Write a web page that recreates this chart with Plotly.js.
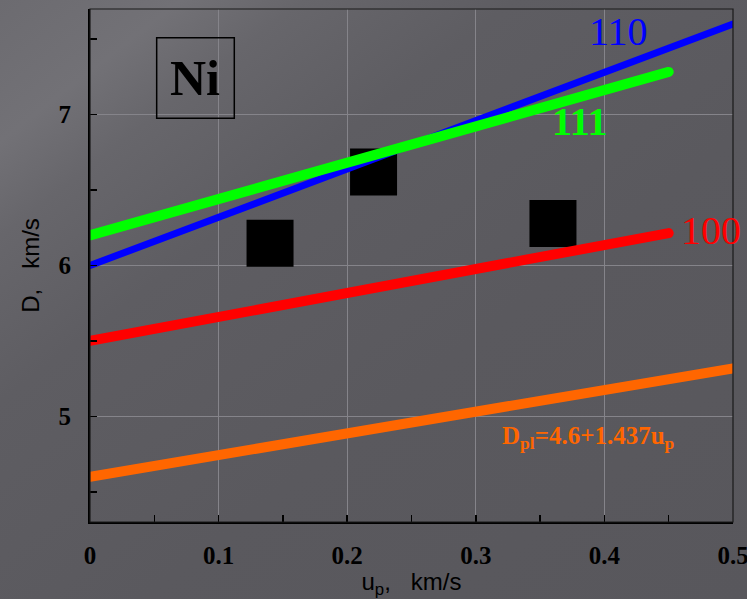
<!DOCTYPE html>
<html>
<head>
<meta charset="utf-8">
<script src="https://cdn.plot.ly/plotly-3.0.1.min.js"></script>
<style>
html,body{margin:0;padding:0;width:747px;height:599px;overflow:hidden;}
body{background:linear-gradient(142deg,#6c6b70 0%,#727176 12%,#67666b 20%,#5e5d62 34%,#5a595e 60%,#58575c 100%);}
#chart{width:747px;height:599px;}
</style>
</head>
<body>
<div id="chart"></div>
<script>
// Data
const up110 = [0, 0.5];
const D110 = [6.0, 7.6];
const up111 = [0, 0.45];
const D111 = [6.2, 7.283];
const up100 = [0, 0.45];
const D100 = [5.5, 6.215];
const upPl = [0, 0.5];
const DPl = [4.6, 5.3185];
const expUp = [0.14, 0.2205, 0.36];
const expD = [6.148, 6.62, 6.278];
const xTickVals = [0, 0.1, 0.2, 0.3, 0.4, 0.5];
const xTickText = ['0', '0.1', '0.2', '0.3', '0.4', '0.5'];
const yTickVals = [5, 6, 7];
const yTickText = ['5', '6', '7'];

const serif = 'Liberation Serif, Times New Roman, serif';
const sans = 'Liberation Sans, Arial, sans-serif';

const traces = [
  {x: expUp, y: expD, mode: 'markers', type: 'scatter',
   marker: {symbol: 'square', size: 47, color: '#000000', line: {width: 0}}, hoverinfo: 'none'},
  {x: upPl, y: DPl, mode: 'lines', type: 'scatter', line: {color: '#ff6600', width: 10}},
  {x: up100, y: D100, mode: 'lines', type: 'scatter', line: {color: '#ff0000', width: 10}},
  {x: up110, y: D110, mode: 'lines', type: 'scatter', line: {color: '#0000ff', width: 7}},
  {x: up111, y: D111, mode: 'lines', type: 'scatter', line: {color: '#00ff00', width: 10}}
];

const layout = {
  width: 747, height: 599,
  margin: {l: 90, r: 14, t: 9, b: 77},
  paper_bgcolor: 'rgba(0,0,0,0)',
  plot_bgcolor: 'rgba(0,0,0,0)',
  showlegend: false,
  xaxis: {
    range: [0, 0.5], tickvals: xTickVals, ticktext: xTickText,
    ticks: 'inside', ticklen: 7, tickwidth: 1.5, tickcolor: '#000',
    minor: {dtick: 0.05, tick0: 0, ticks: 'inside', ticklen: 7, tickwidth: 1.5, tickcolor: '#000', showgrid: false},
    showgrid: true, gridcolor: '#85848a', gridwidth: 1,
    zeroline: false, showline: true, linecolor: '#000', linewidth: 2,
    tickfont: {family: serif, size: 25, color: '#000', weight: 'bold'},
    ticklabelstandoff: 10, ticklabeloverflow: 'allow',
    title: {text: 'u<sub>p</sub>,\u00a0\u00a0 km/s', font: {family: sans, size: 24, color: '#000'}, standoff: 10}
  },
  yaxis: {
    range: [4.3, 7.7], tickvals: yTickVals, ticktext: yTickText,
    ticks: 'inside', ticklen: 7, tickwidth: 1.5, tickcolor: '#000',
    minor: {dtick: 0.5, tick0: 4.5, ticks: 'inside', ticklen: 7, tickwidth: 1.5, tickcolor: '#000', showgrid: false},
    showgrid: true, gridcolor: '#85848a', gridwidth: 1,
    zeroline: false, showline: true, linecolor: '#000', linewidth: 2,
    tickfont: {family: serif, size: 25, color: '#000', weight: 'bold'},
    ticklabelstandoff: 12, ticklabeloverflow: 'allow',
    title: {text: 'D,\u00a0\u00a0 km/s', font: {family: sans, size: 24, color: '#000'}, standoff: 12}
  },
  shapes: [
    {type: 'rect', xref: 'paper', yref: 'paper', x0: 0, x1: 1, y0: 0, y1: 1, line: {color: '#1a1a1a', width: 1.2}},
    {type: 'rect', xref: 'paper', yref: 'paper', x0: 0.1037, x1: 0.2244, y0: 0.787, y1: 0.944, line: {color: '#000', width: 1.5}}
  ],
  annotations: [
    {xref: 'paper', yref: 'paper', x: 0.163, y: 0.866, xanchor: 'center', yanchor: 'middle', text: 'Ni', showarrow: false,
     font: {family: serif, size: 50, color: '#000', weight: 'bold'}},
    {xref: 'x', yref: 'y', x: 0.411, y: 7.55, xanchor: 'center', yanchor: 'middle', text: '110', showarrow: false,
     font: {family: serif, size: 40, color: '#0000ff'}},
    {xref: 'x', yref: 'y', x: 0.381, y: 6.954, xanchor: 'center', yanchor: 'middle', text: '111', showarrow: false,
     font: {family: serif, size: 40, color: '#00ff00', weight: 'bold'}},
    {xref: 'x', yref: 'y', x: 0.4825, y: 6.23, xanchor: 'center', yanchor: 'middle', text: '100', showarrow: false,
     font: {family: serif, size: 40, color: '#ff0000'}},
    {xref: 'x', yref: 'y', x: 0.3875, y: 4.86, xanchor: 'center', yanchor: 'middle', text: 'D<sub>pl</sub>=4.6+1.437u<sub>p</sub>', showarrow: false,
     font: {family: serif, size: 25, color: '#ff6600', weight: 'bold'}}
  ]
};

Plotly.newPlot('chart', traces, layout, {staticPlot: true}).then(function(gd){
  gd.querySelectorAll('.scatterlayer .js-line').forEach(function(p){
    p.style.strokeLinecap = 'round';
  });
});
</script>
</body>
</html>
